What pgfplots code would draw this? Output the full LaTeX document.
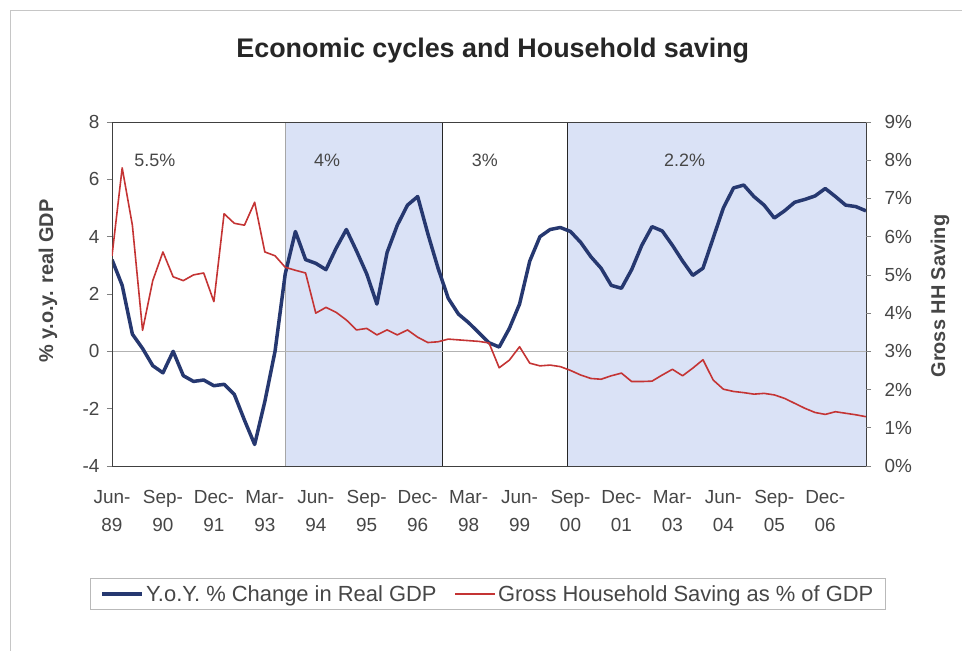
\documentclass[border=0pt]{standalone}
\usepackage{fontspec}
\setmainfont{Liberation Sans}
\usepackage{pgfplots}
\pgfplotsset{compat=1.18}
\definecolor{gdpblue}{RGB}{38,56,112}
\definecolor{savred}{RGB}{196,52,52}
\definecolor{shadeblue}{RGB}{218,226,246}
\definecolor{txt}{RGB}{70,70,70}
\begin{document}
\begin{tikzpicture}
\path[use as bounding box] (-112bp,-185bp) rectangle (850bp,466bp);
\draw[gray!45, line width=0.9bp] (850bp,456bp) -- (-102bp,456bp) -- (-102bp,-185bp);
\pgfplotsset{
  every axis/.append style={
    scale only axis, width=754bp, height=344bp, xmin=0, xmax=74,
    /pgf/number format/assume math mode=true,
    tick label style={font=\fontsize{19}{28}\selectfont, text=txt},
    tick align=outside, major tick length=5bp,
    tick style={gray, line width=0.6bp},
  },
}
\begin{axis}[
  ymin=-4, ymax=8, ytick={-4,-2,0,2,4,6,8},
  ytick pos=left, xtick pos=bottom,
  xtick={0,5,...,70},
  xticklabels={{Jun-\\89},{Sep-\\90},{Dec-\\91},{Mar-\\93},{Jun-\\94},{Sep-\\95},{Dec-\\96},{Mar-\\98},{Jun-\\99},{Sep-\\00},{Dec-\\01},{Mar-\\03},{Jun-\\04},{Sep-\\05},{Dec-\\06}},
  xticklabel style={align=center, yshift=-16bp},
  xtick style={draw=none},
  yticklabel style={xshift=-4bp},
  axis line style={black!75, line width=0.9bp},
  axis on top=true,
  title={Economic cycles and Household saving},
  title style={at={(axis description cs:0.505,1.19)}, anchor=center, font=\bfseries\fontsize{27}{31}\selectfont, text=black!85},
  ylabel={\% y.o.y. real GDP},
  ylabel style={at={(axis description cs:-0.085,0.538)}, anchor=center, font=\bfseries\fontsize{20}{24}\selectfont, text=txt},
]
\fill[shadeblue] (axis cs:17,-4) rectangle (axis cs:32.4,8);
\fill[shadeblue] (axis cs:44.7,-4) rectangle (axis cs:74,8);
\draw[gray!70, line width=0.6bp] (axis cs:17,-4) -- (axis cs:17,8);
\draw[black!85, line width=1.1bp] (axis cs:32.4,-4) -- (axis cs:32.4,8);
\draw[black!85, line width=1.1bp] (axis cs:44.7,-4) -- (axis cs:44.7,8);
\draw[gray!60, line width=0.6bp] (axis cs:0,0) -- (axis cs:74,0);
\node[font=\fontsize{18}{20}\selectfont, text=txt] at (axis cs:4.2,6.67) {5.5\%};
\node[font=\fontsize{18}{20}\selectfont, text=txt] at (axis cs:21.1,6.67) {4\%};
\node[font=\fontsize{18}{20}\selectfont, text=txt] at (axis cs:36.6,6.67) {3\%};
\node[font=\fontsize{18}{20}\selectfont, text=txt] at (axis cs:56.2,6.67) {2.2\%};
\addplot[gdpblue, line width=3.5bp, line join=round] coordinates {
(0,3.2) (1,2.3) (2,0.6) (3,0.1) (4,-0.5) (5,-0.75) (6,0.0) (7,-0.85) (8,-1.05) (9,-1.0)
(10,-1.2) (11,-1.15) (12,-1.5) (13,-2.4) (14,-3.25) (15,-1.75) (16,0.0) (17,2.7) (18,4.18) (19,3.2)
(20,3.07) (21,2.85) (22,3.6) (23,4.25) (24,3.5) (25,2.7) (26,1.65) (27,3.45) (28,4.4) (29,5.1)
(30,5.4) (31,4.1) (32,2.9) (33,1.85) (34,1.3) (35,1.0) (36,0.65) (37,0.3) (38,0.15) (39,0.8)
(40,1.65) (41,3.15) (42,4.0) (43,4.25) (44,4.32) (45,4.18) (46,3.8) (47,3.3) (48,2.9) (49,2.3)
(50,2.2) (51,2.85) (52,3.7) (53,4.35) (54,4.2) (55,3.7) (56,3.15) (57,2.65) (58,2.9) (59,3.95)
(60,5.0) (61,5.7) (62,5.8) (63,5.4) (64,5.1) (65,4.65) (66,4.9) (67,5.2) (68,5.3) (69,5.42)
(70,5.68) (71,5.4) (72,5.1) (73,5.05) (74,4.9)
};
\end{axis}
\begin{axis}[
  ymin=0, ymax=9, ytick={0,1,...,9},
  axis y line*=right, axis x line=none,
  yticklabel={\pgfmathprintnumber{\tick}\%},
  yticklabel style={xshift=10bp},
  ylabel={Gross HH Saving},
  ylabel style={at={(axis description cs:1.098,0.494)}, anchor=center, font=\bfseries\fontsize{20}{24}\selectfont, text=txt},
  axis line style={draw=none},
  legend style={at={(axis description cs:0.4987,-0.372)}, anchor=center, legend columns=2, draw=gray!55, line width=0.6bp, font=\fontsize{22}{25}\selectfont, text=txt, /tikz/every even column/.append style={column sep=16bp}, inner xsep=10bp, inner ysep=5bp},
  legend image code/.code={\draw[#1] (0bp,0bp) -- (40bp,0bp);},
]
\addlegendimage{gdpblue, line width=3.5bp}
\addlegendentry{Y.o.Y. \% Change in Real GDP}
\addplot[savred, line width=1.6bp, line join=round] coordinates {
(0,5.5) (1,7.8) (2,6.3) (3,3.55) (4,4.85) (5,5.6) (6,4.95) (7,4.85) (8,5.0) (9,5.05)
(10,4.3) (11,6.6) (12,6.35) (13,6.3) (14,6.9) (15,5.6) (16,5.5) (17,5.2) (18,5.12) (19,5.05)
(20,4.0) (21,4.15) (22,4.02) (23,3.82) (24,3.56) (25,3.6) (26,3.43) (27,3.56) (28,3.43) (29,3.56)
(30,3.37) (31,3.23) (32,3.25) (33,3.32) (34,3.3) (35,3.28) (36,3.26) (37,3.22) (38,2.57) (39,2.77)
(40,3.12) (41,2.69) (42,2.62) (43,2.64) (44,2.6) (45,2.5) (46,2.38) (47,2.29) (48,2.27) (49,2.36)
(50,2.43) (51,2.21) (52,2.21) (53,2.22) (54,2.38) (55,2.53) (56,2.36) (57,2.56) (58,2.78) (59,2.25)
(60,2.01) (61,1.95) (62,1.92) (63,1.88) (64,1.9) (65,1.86) (66,1.77) (67,1.64) (68,1.51) (69,1.4)
(70,1.35) (71,1.42) (72,1.38) (73,1.34) (74,1.29)
};
\addlegendentry{Gross Household Saving as \% of GDP}
\end{axis}
\end{tikzpicture}
\end{document}
